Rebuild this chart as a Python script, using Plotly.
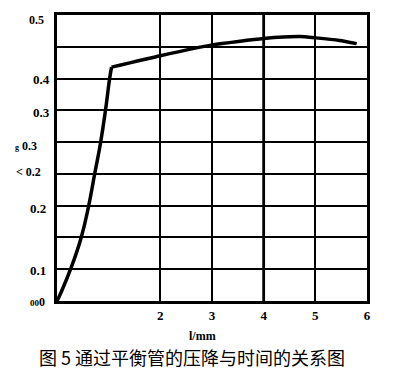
import plotly.graph_objects as go

# rising part of the curve (x in mm, y pressure drop)
rise_x = [0.0, 0.097, 0.262, 0.469, 0.616, 0.727, 0.843, 0.940, 1.017, 1.056]
rise_y = [0.0, 0.017, 0.050, 0.100, 0.151, 0.199, 0.249, 0.301, 0.349, 0.368]
# flat part after the knee
flat_x = [1.056, 2.0, 3.01, 4.0, 4.70, 5.01, 5.47, 5.80]
flat_y = [0.368, 0.386, 0.403, 0.413, 0.416, 0.414, 0.410, 0.405]

# y tick labels as printed (garbled in the source)
ytick_vals = [0.45, 0.35, 0.30, 0.25, 0.20, 0.15, 0.05, 0.0]
ytick_text = ["0.5", "0.4", "0.3",
              "<span style='font-size:8px'>g</span> 0.3",
              "< 0.2", "0.2", "0.1",
              "<span style='font-size:9px'>00</span>0"]
ytick_size = [12, 13, 13, 12, 12, 13, 13, 12]
ytick_xshift = [-11, -5, -5, -18, -14, -9, -9, -10]
ytick_yshift = [-5, -1, -2, -4, 2, -3, -1, -1]

xtick_vals = [2, 3, 4, 5, 6]
xtick_text = ["2", "3", "4", "5", "6"]

x_title = "l/mm"
caption = "图 5 通过平衡管的压降与时间的关系图"

serif = "Liberation Serif"

fig = go.Figure()
fig.add_trace(go.Scatter(x=rise_x, y=rise_y, mode="lines",
                         line=dict(color="black", width=3.5, shape="spline", smoothing=1.3),
                         showlegend=False, hoverinfo="skip"))
fig.add_trace(go.Scatter(x=flat_x, y=flat_y, mode="lines",
                         line=dict(color="black", width=3.5, shape="spline", smoothing=0.5),
                         showlegend=False, hoverinfo="skip"))

fig.update_layout(
    width=395, height=377,
    margin=dict(l=57, r=28, t=12, b=76),
    paper_bgcolor="white", plot_bgcolor="white",
    xaxis=dict(range=[0, 6], dtick=1, showgrid=True, gridcolor="black", gridwidth=1.6,
               showline=True, linecolor="black", linewidth=3, mirror=True,
               zeroline=False, tickmode="array", tickvals=xtick_vals,
               ticktext=["<b>" + t + "</b>" for t in xtick_text],
               ticks="", tickfont=dict(family=serif, size=13, color="black"),
               ticklabelstandoff=0),
    yaxis=dict(range=[0, 0.45], dtick=0.05, tick0=0, showgrid=True, gridcolor="black", gridwidth=1.6,
               showline=True, linecolor="black", linewidth=3, mirror=True,
               zeroline=False, showticklabels=False, ticks=""),
)

# thicker vertical line at x = 4
fig.add_shape(type="line", xref="x", yref="paper", x0=4, x1=4, y0=0, y1=1,
              line=dict(color="black", width=2.8), layer="above")

# y labels
for v, t, s, dx, dy in zip(ytick_vals, ytick_text, ytick_size, ytick_xshift, ytick_yshift):
    fig.add_annotation(x=0, xref="paper", y=v, yref="y", text="<b>" + t + "</b>",
                       showarrow=False, xanchor="right", yanchor="middle",
                       xshift=dx, yshift=dy,
                       font=dict(family=serif, size=s, color="black"))

fig.add_annotation(x=0.5, xref="paper", y=0, yref="paper", text="<b>" + x_title + "</b>",
                   showarrow=False, xanchor="center", yanchor="middle", yshift=-35, xshift=-10,
                   font=dict(family=serif, size=12, color="black"))

fig.add_annotation(x=0.5, xref="paper", y=0, yref="paper", text=caption,
                   showarrow=False, xanchor="center", yanchor="middle", yshift=-56, xshift=-20,
                   font=dict(family="Noto Sans CJK SC", size=18, color="black"))

fig.write_html("out.html")
